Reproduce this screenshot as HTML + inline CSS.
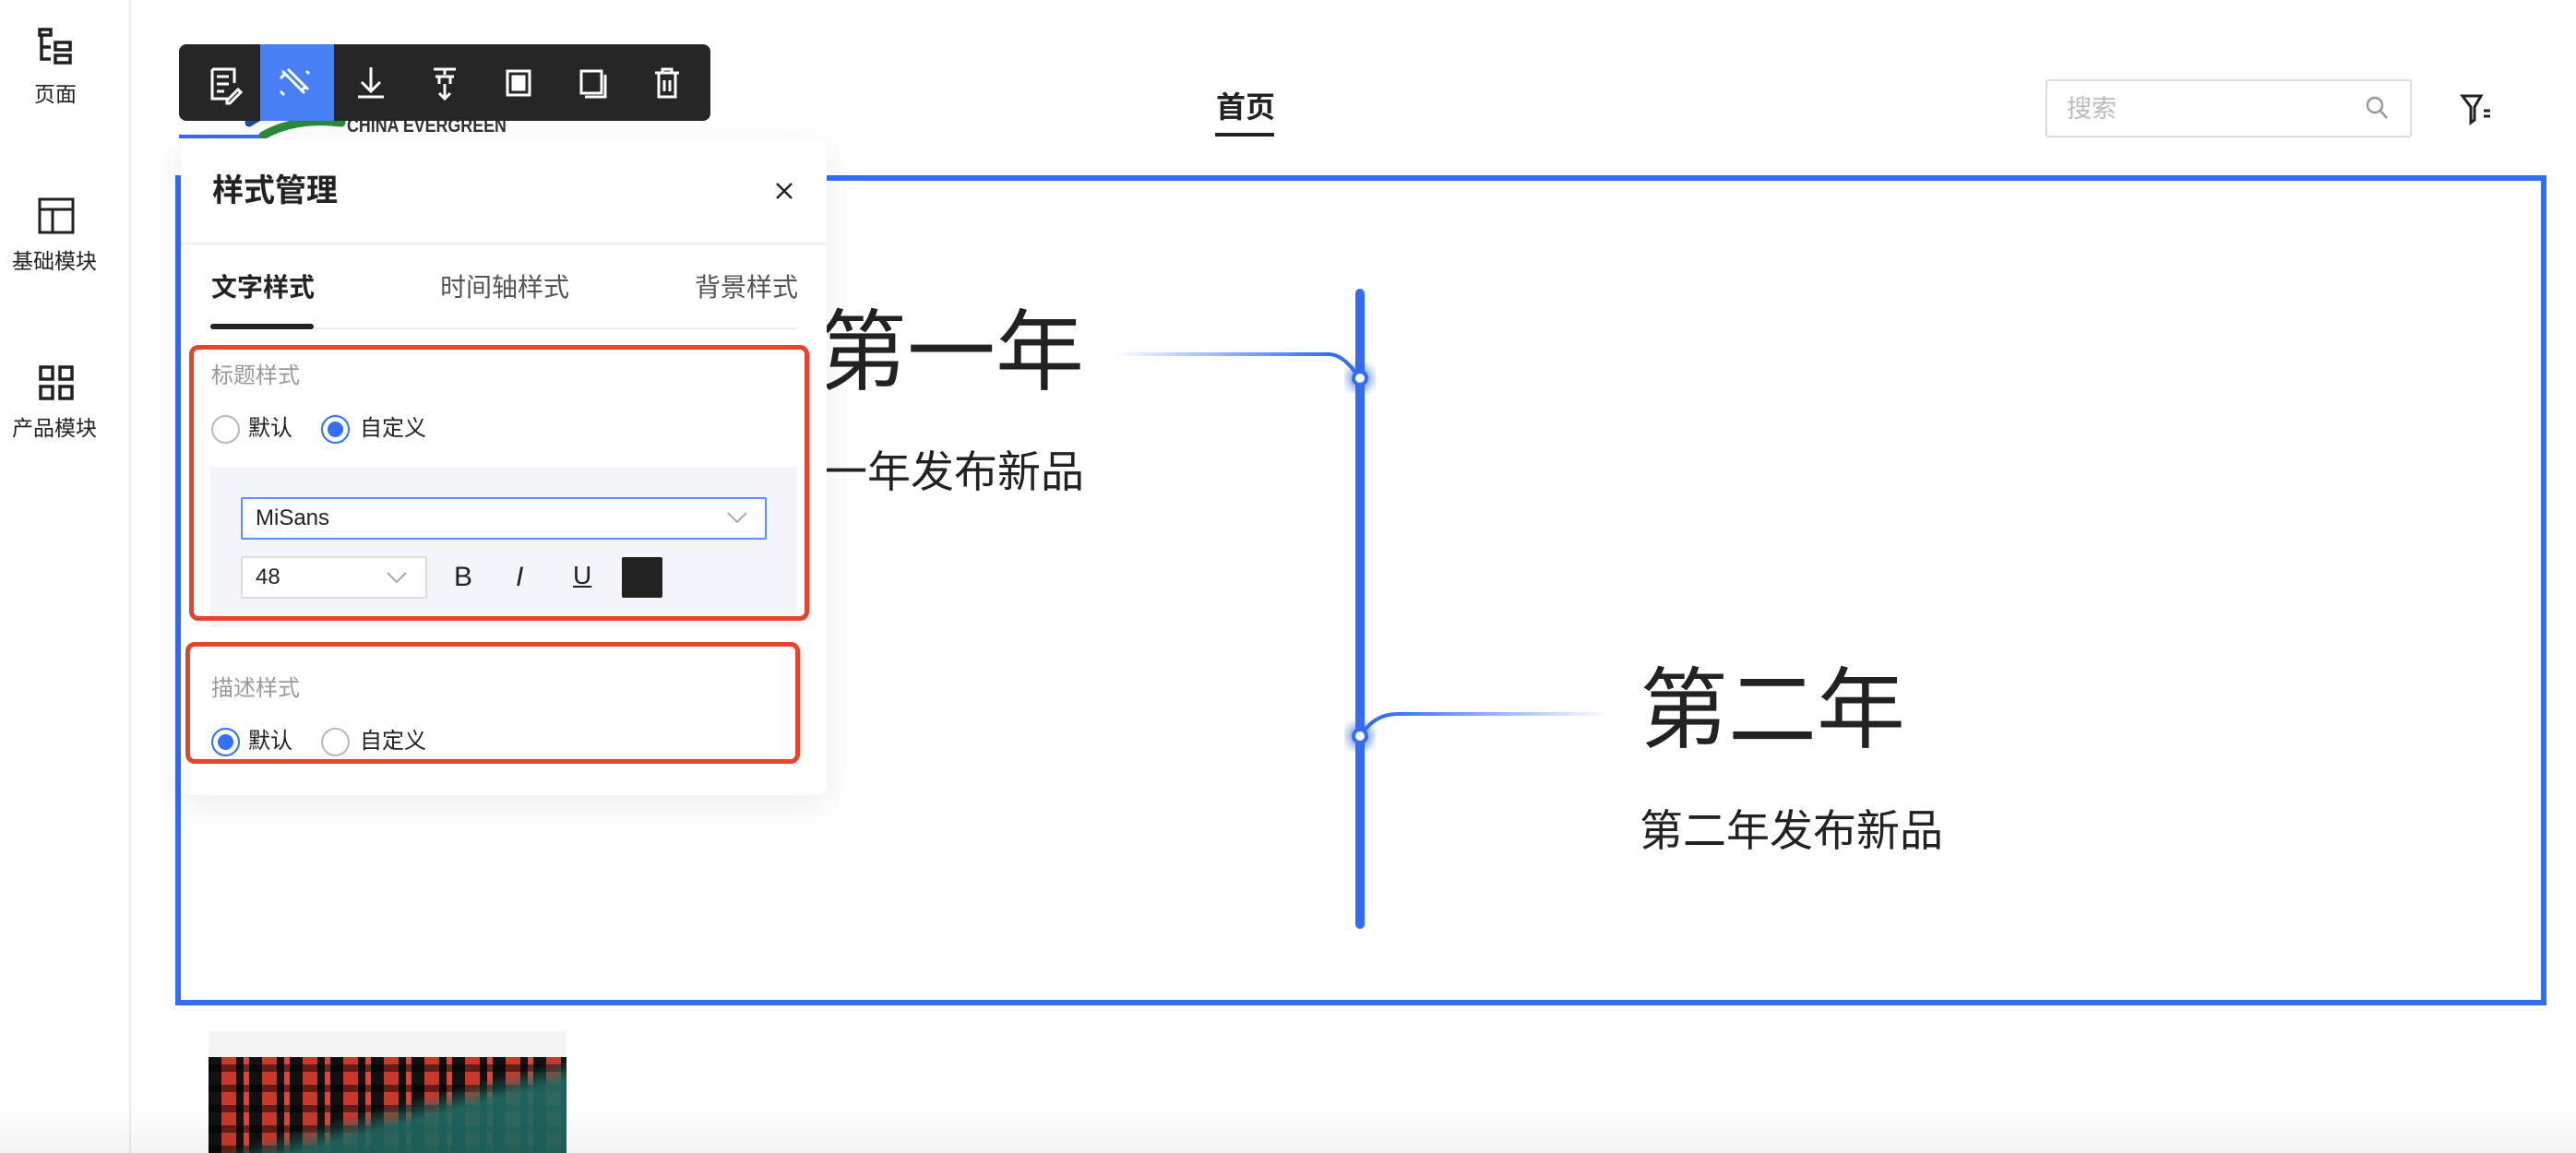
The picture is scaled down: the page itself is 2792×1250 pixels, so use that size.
<!DOCTYPE html>
<html><head><meta charset="utf-8">
<style>
*{margin:0;padding:0;box-sizing:border-box}
body{width:2792px;height:1250px;position:relative;overflow:hidden;background:#fff;font-family:"Liberation Sans","Noto Sans CJK SC",sans-serif;color:#222}
.a{position:absolute;white-space:nowrap}
.radio{position:absolute;width:31px;height:31px;border-radius:50%;border:2px solid #b8b8b8;background:#fff}
.radio.on{border:2px solid #3370ff}
.radio.on::after{content:"";position:absolute;left:5px;top:5px;width:17px;height:17px;border-radius:50%;background:#3370ff}
</style></head><body>

<!-- sidebar -->
<div class="a" style="left:140px;top:0;width:2px;height:1250px;background:#ececec"></div>
<svg class="a" style="left:40px;top:30px" width="44" height="44" viewBox="0 0 44 44" fill="none" stroke="#222" stroke-width="3.5">
<rect x="3" y="2" width="12" height="6"/><path d="M5 8v26h10M5 21h10"/><rect x="20" y="16" width="16" height="8"/><rect x="20" y="30" width="16" height="8"/></svg>
<div class="a" style="left:37px;top:89px;font-size:23px;line-height:26px">页面</div>
<svg class="a" style="left:40px;top:213px" width="42" height="42" viewBox="0 0 42 42" fill="none" stroke="#222" stroke-width="3"><rect x="3" y="3" width="36" height="36"/><path d="M3 14h36M17 14v25"/></svg>
<div class="a" style="left:13px;top:270px;font-size:23px;line-height:26px">基础模块</div>
<svg class="a" style="left:41px;top:395px" width="40" height="40" viewBox="0 0 40 40" fill="none" stroke="#222" stroke-width="3.5"><rect x="3" y="3" width="13" height="13"/><rect x="24" y="3" width="13" height="13"/><rect x="3" y="24" width="13" height="13"/><rect x="24" y="24" width="13" height="13"/></svg>
<div class="a" style="left:13px;top:451px;font-size:23px;line-height:26px">产品模块</div>

<!-- logo -->
<svg class="a" style="left:250px;top:85px" width="130" height="70" viewBox="0 0 130 70" fill="none" stroke-width="9" stroke-linecap="round">
<path d="M10 35 Q40 5 90 12" stroke="#c23a2a"/><path d="M20 48 Q60 22 110 30" stroke="#1c4fa0"/><path d="M35 62 Q70 42 120 48" stroke="#2a8a3a"/></svg>
<div class="a" style="left:376px;top:70px;font-size:40px;line-height:48px;font-weight:bold;color:#333">中国·长隆</div>
<div class="a" style="left:376px;top:125px;font-size:21px;line-height:24px;font-weight:bold;color:#333;transform:scaleX(.85);transform-origin:left">CHINA EVERGREEN</div>

<!-- header -->
<div class="a" style="left:1318px;top:98px;font-size:32px;line-height:36px;font-weight:bold">首页</div>
<div class="a" style="left:1317px;top:144px;width:64px;height:4px;background:#222"></div>
<div class="a" style="left:2217px;top:86px;width:397px;height:63px;border:2px solid #ddd;border-radius:3px"></div>
<div class="a" style="left:2240px;top:103px;font-size:27px;line-height:30px;color:#bbb">搜索</div>
<svg class="a" style="left:2562px;top:102px" width="30" height="30" viewBox="0 0 30 30" fill="none" stroke="#999" stroke-width="2.5"><circle cx="12" cy="12" r="8"/><path d="M18 18l7 8"/></svg>
<svg class="a" style="left:2666px;top:100px" width="36" height="36" viewBox="0 0 36 36" fill="none" stroke="#222" stroke-width="3"><path d="M3 4h20l-7 12v14l-4 3V16z"/><path d="M26 20h7M26 26h7"/></svg>

<!-- selection box -->
<div class="a" style="left:190px;top:190px;width:2570px;height:900px;border:6px solid #336cf5"></div>
<div class="a" style="left:194px;top:146px;width:88px;height:4px;background:#336cf5"></div>

<!-- timeline -->
<svg class="a" style="left:0;top:0" width="2792" height="1250">
<defs>
<linearGradient id="g1" gradientUnits="userSpaceOnUse" x1="1207" y1="0" x2="1440" y2="0"><stop offset="0" stop-color="#336cf5" stop-opacity="0"/><stop offset="1" stop-color="#336cf5"/></linearGradient>
<linearGradient id="g2" gradientUnits="userSpaceOnUse" x1="1500" y1="0" x2="1745" y2="0"><stop offset="0" stop-color="#336cf5"/><stop offset="1" stop-color="#336cf5" stop-opacity="0"/></linearGradient>
<filter id="bl"><feGaussianBlur stdDeviation="5"/></filter>
</defs>
<line x1="1474" y1="318" x2="1474" y2="1002" stroke="#336cf5" stroke-width="10" stroke-linecap="round"/>
<path d="M1207 384H1440Q1456 384 1472 408" stroke="url(#g1)" stroke-width="4" fill="none"/>
<path d="M1476 796Q1490 774 1515 774H1745" stroke="url(#g2)" stroke-width="4" fill="none"/>
<circle cx="1474" cy="410" r="14" fill="#336cf5" opacity=".6" filter="url(#bl)"/>
<circle cx="1474" cy="410" r="7" fill="#fff" stroke="#336cf5" stroke-width="4"/>
<circle cx="1474" cy="798" r="14" fill="#336cf5" opacity=".6" filter="url(#bl)"/>
<circle cx="1474" cy="798" r="7" fill="#fff" stroke="#336cf5" stroke-width="4"/>
</svg>
<div class="a" style="left:887px;top:334px;font-size:96px;line-height:98px">第一年</div>
<div class="a" style="left:846px;top:487px;font-size:47px;line-height:50px">第一年发布新品</div>
<div class="a" style="left:1777px;top:722px;font-size:96px;line-height:98px">第二年</div>
<div class="a" style="left:1777px;top:876px;font-size:47px;line-height:50px">第二年发布新品</div>

<!-- bottom image -->
<div class="a" style="left:226px;top:1118px;width:388px;height:30px;background:#f4f4f4"></div>
<div class="a" style="left:226px;top:1146px;width:388px;height:104px;background:
linear-gradient(165deg,transparent 50%,rgba(31,107,99,.9) 62%),
repeating-linear-gradient(0deg,rgba(0,0,0,.5) 0 8px,transparent 8px 22px),
repeating-linear-gradient(90deg,#111 0 14px,#c8392b 14px 30px,#111 30px 38px,#d9463a 38px 44px),
#222"></div>
<div class="a" style="left:0;top:1200px;width:2792px;height:50px;background:linear-gradient(rgba(0,0,0,0),rgba(0,0,0,.05))"></div>

<!-- toolbar -->
<div class="a" style="left:194px;top:48px;width:576px;height:83px;background:#262626;border-radius:8px"></div>
<div class="a" style="left:282px;top:48px;width:80px;height:83px;background:#4a80f5"></div>
<svg class="a" style="left:194px;top:47px" width="576" height="85" viewBox="0 0 576 85" fill="none" stroke="#fff" stroke-width="3">
<path d="M36 28h24v15M36 28v32h18M41 36h13M41 44h13M41 52h8M52 62l12-12 3 3-12 12h-3z"/>
<path d="M112 30l24 24M118 28l22 22M114 34l-4 4M132 52l4-4M110 52l4 4M138 30l3 3"/>
<path d="M208 26v26M198 42l10 10 10-10M194 58h28"/>
<path d="M276 28h24M288 28v6M278 36h20M282 36v8M294 36v8M288 44v16M282 54l6 6 6-6"/>
<rect x="356" y="30" width="24" height="26"/><rect x="362" y="36" width="12" height="14" fill="#fff"/>
<path d="M436 30h22v24h-22zM462 34v24h-22"/>
<path d="M516 32h26M524 32v-4h10v4M520 32v26h18V32M526 40v12M532 40v12"/>
</svg>

<!-- panel -->
<div class="a" style="left:196px;top:150px;width:700px;height:712px;background:#fff;border-radius:10px;box-shadow:0 10px 40px rgba(0,0,0,.08)"></div>
<div class="a" style="left:230px;top:187px;font-size:34px;line-height:40px;font-weight:bold">样式管理</div>
<svg class="a" style="left:840px;top:197px" width="20" height="20" viewBox="0 0 20 20" stroke="#222" stroke-width="2.5"><path d="M2 2l16 16M18 2L2 18"/></svg>
<div class="a" style="left:196px;top:263px;width:700px;height:2px;background:#eee"></div>
<div class="a" style="left:229px;top:296px;font-size:28px;line-height:32px;font-weight:bold">文字样式</div>
<div class="a" style="left:477px;top:296px;font-size:28px;line-height:32px;color:#555">时间轴样式</div>
<div class="a" style="left:753px;top:296px;font-size:28px;line-height:32px;color:#555">背景样式</div>
<div class="a" style="left:228px;top:355px;width:636px;height:2px;background:#eee"></div>
<div class="a" style="left:228px;top:351px;width:112px;height:6px;background:#222;border-radius:3px"></div>

<div class="a" style="left:228px;top:506px;width:636px;height:174px;background:#f3f5fa"></div>
<div class="a" style="left:205px;top:374px;width:672px;height:299px;border:5px solid #e8432c;border-radius:10px"></div>
<div class="a" style="left:229px;top:394px;font-size:24px;line-height:28px;color:#999">标题样式</div>
<div class="radio" style="left:229px;top:450px"></div>
<div class="a" style="left:269px;top:451px;font-size:24px;line-height:28px">默认</div>
<div class="radio on" style="left:348px;top:450px"></div>
<div class="a" style="left:390px;top:451px;font-size:24px;line-height:28px">自定义</div>

<div class="a" style="left:261px;top:539px;width:570px;height:46px;border:2px solid #5b8ff9;background:#fff;border-radius:2px"></div>
<div class="a" style="left:277px;top:548px;font-size:24px;line-height:28px">MiSans</div>
<svg class="a" style="left:788px;top:554px" width="22" height="14" viewBox="0 0 22 14" fill="none" stroke="#aaa" stroke-width="2"><path d="M1 2l10 10L21 2"/></svg>
<div class="a" style="left:261px;top:603px;width:202px;height:46px;border:2px solid #ddd;background:#fff;border-radius:2px"></div>
<div class="a" style="left:277px;top:612px;font-size:24px;line-height:28px">48</div>
<svg class="a" style="left:419px;top:619px" width="22" height="14" viewBox="0 0 22 14" fill="none" stroke="#aaa" stroke-width="2"><path d="M1 2l10 10L21 2"/></svg>
<div class="a" style="left:492px;top:610px;font-size:30px;line-height:32px">B</div>
<div class="a" style="left:559px;top:610px;font-size:30px;line-height:32px;font-style:italic">I</div>
<div class="a" style="left:621px;top:608px;font-size:28px;line-height:32px;text-decoration:underline">U</div>
<div class="a" style="left:674px;top:604px;width:44px;height:44px;background:#222;border-radius:2px"></div>

<div class="a" style="left:201px;top:696px;width:666px;height:132px;border:5px solid #e8432c;border-radius:10px"></div>
<div class="a" style="left:229px;top:733px;font-size:24px;line-height:28px;color:#999">描述样式</div>
<div class="radio on" style="left:229px;top:789px"></div>
<div class="a" style="left:269px;top:790px;font-size:24px;line-height:28px">默认</div>
<div class="radio" style="left:348px;top:789px"></div>
<div class="a" style="left:390px;top:790px;font-size:24px;line-height:28px">自定义</div>
</body></html>
